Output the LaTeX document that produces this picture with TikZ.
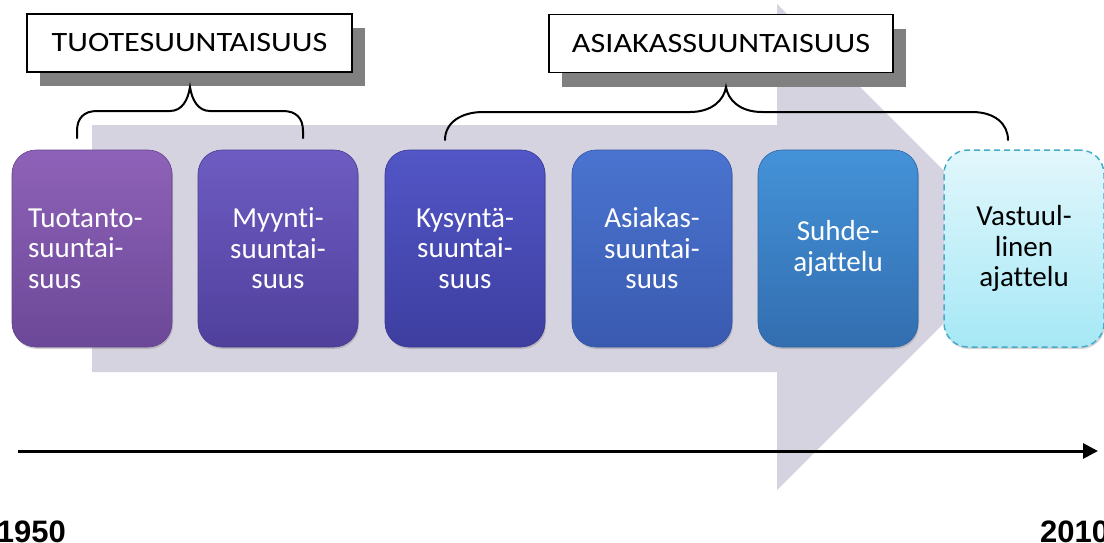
\documentclass[tikz,border=0pt]{standalone}
\usepackage{fontspec}
\setmainfont{Carlito}[Ligatures={NoCommon}]
\newfontfamily\erafont{Carlito}[FakeStretch=1.15,Ligatures={NoCommon}]
\newfontfamily\yearfont{Liberation Sans}
\usetikzlibrary{arrows.meta,shadows}
\definecolor{arrowgray}{RGB}{214,211,225}
\definecolor{shadowgray}{RGB}{128,128,128}
\definecolor{dashblue}{RGB}{70,172,200}
\tikzset{
  phase/.style={rounded corners=24pt, minimum width=160pt, minimum height=197pt,
    inner sep=0pt, align=center, text=white, line width=0.6pt,
    font=\fontsize{29}{30.5}\selectfont,
    drop shadow={shadow xshift=1pt, shadow yshift=-2pt, opacity=0.35}},
  era/.style={draw=black, line width=1.5pt, fill=white, minimum height=58pt,
    inner sep=0pt, font=\erafont\fontsize{28}{30}\selectfont,
    drop shadow={shadow xshift=13pt, shadow yshift=-14pt, fill=shadowgray, opacity=1}},
  brace/.style={line width=2pt, line cap=round},
  timeline/.style={line width=3pt, -{Triangle[length=15pt,width=15pt]}},
  year/.style={inner sep=0pt, font=\yearfont\bfseries\fontsize{31}{31}\selectfont}
}
\begin{document}
\begin{tikzpicture}[x=1pt,y=-1pt]
  \useasboundingbox (0,0) rectangle (1104,542);
  % big background arrow
  \fill[arrowgray] (92,125) -- (777,125) -- (777,4) -- (1020,247) -- (777,490) -- (777,372) -- (92,372) -- cycle;

  % phases
  \node[phase, align=left, text width=128pt, top color={rgb,255:red,142;green,98;blue,184}, bottom color={rgb,255:red,108;green,72;blue,152}, draw={rgb,255:red,100;green,66;blue,140}] (b1) at (92,248.5) {Tuotanto-\\suuntai-\\suus};
  \node[phase, top color={rgb,255:red,110;green,92;blue,194}, bottom color={rgb,255:red,80;green,64;blue,156}, draw={rgb,255:red,74;green,58;blue,144}] (b2) at (278,248.5) {Myynti-\\suuntai-\\suus};
  \node[phase, top color={rgb,255:red,82;green,86;blue,198}, bottom color={rgb,255:red,62;green,62;blue,160}, draw={rgb,255:red,56;green,56;blue,146}] (b3) at (465,248.5) {Kysyntä-\\suuntai-\\suus};
  \node[phase, top color={rgb,255:red,74;green,116;blue,208}, bottom color={rgb,255:red,58;green,90;blue,176}, draw={rgb,255:red,52;green,82;blue,162}] (b4) at (652,248.5) {Asiakas-\\suuntai-\\suus};
  \node[phase, top color={rgb,255:red,68;green,146;blue,216}, bottom color={rgb,255:red,50;green,110;blue,176}, draw={rgb,255:red,46;green,100;blue,162}] (b5) at (838,248.5) {Suhde-\\ajattelu};
  \node[phase, text=black, top color={rgb,255:red,226;green,247;blue,252}, bottom color={rgb,255:red,166;green,232;blue,246}, draw=dashblue, line width=1.5pt, dash pattern=on 6pt off 4pt] (b6) at (1024,248.5) {Vastuul-\\linen\\ajattelu};

  % eras
  \node[era, minimum width=325pt] (lab1) at (189.5,43) {TUOTESUUNTAISUUS};
  \node[era, minimum width=344pt] (lab2) at (721,43.5) {ASIAKASSUUNTAISUUS};

  % braces
  \coordinate (tip1) at (190,87);
  \coordinate (tip2) at (726,87);
  \draw[brace] (77,138) -- (77,131) .. controls (77,118) and (84,111) .. (97,111) -- (170,111)
    .. controls (182,111) and (188,100) .. (tip1)
    .. controls (192,100) and (198,111) .. (210,111) -- (283,111)
    .. controls (296,111) and (303,118) .. (303,131) -- (303,138);
  \draw[brace] (445,140) .. controls (445,122) and (462,112) .. (483,112) -- (690,112)
    .. controls (712,112) and (724,100) .. (tip2)
    .. controls (728,100) and (740,112) .. (762,112) -- (972,112)
    .. controls (995,112) and (1008,124) .. (1008,140);

  % time axis
  \coordinate (t0) at (18,451);
  \coordinate (t1) at (1098,451);
  \draw[timeline] (t0) -- (t1);
  \node[year, anchor=base east] (y1) at (66,542) {1950};
  \node[year, anchor=base west] (y2) at (1040,542) {2010};
\end{tikzpicture}
\end{document}
